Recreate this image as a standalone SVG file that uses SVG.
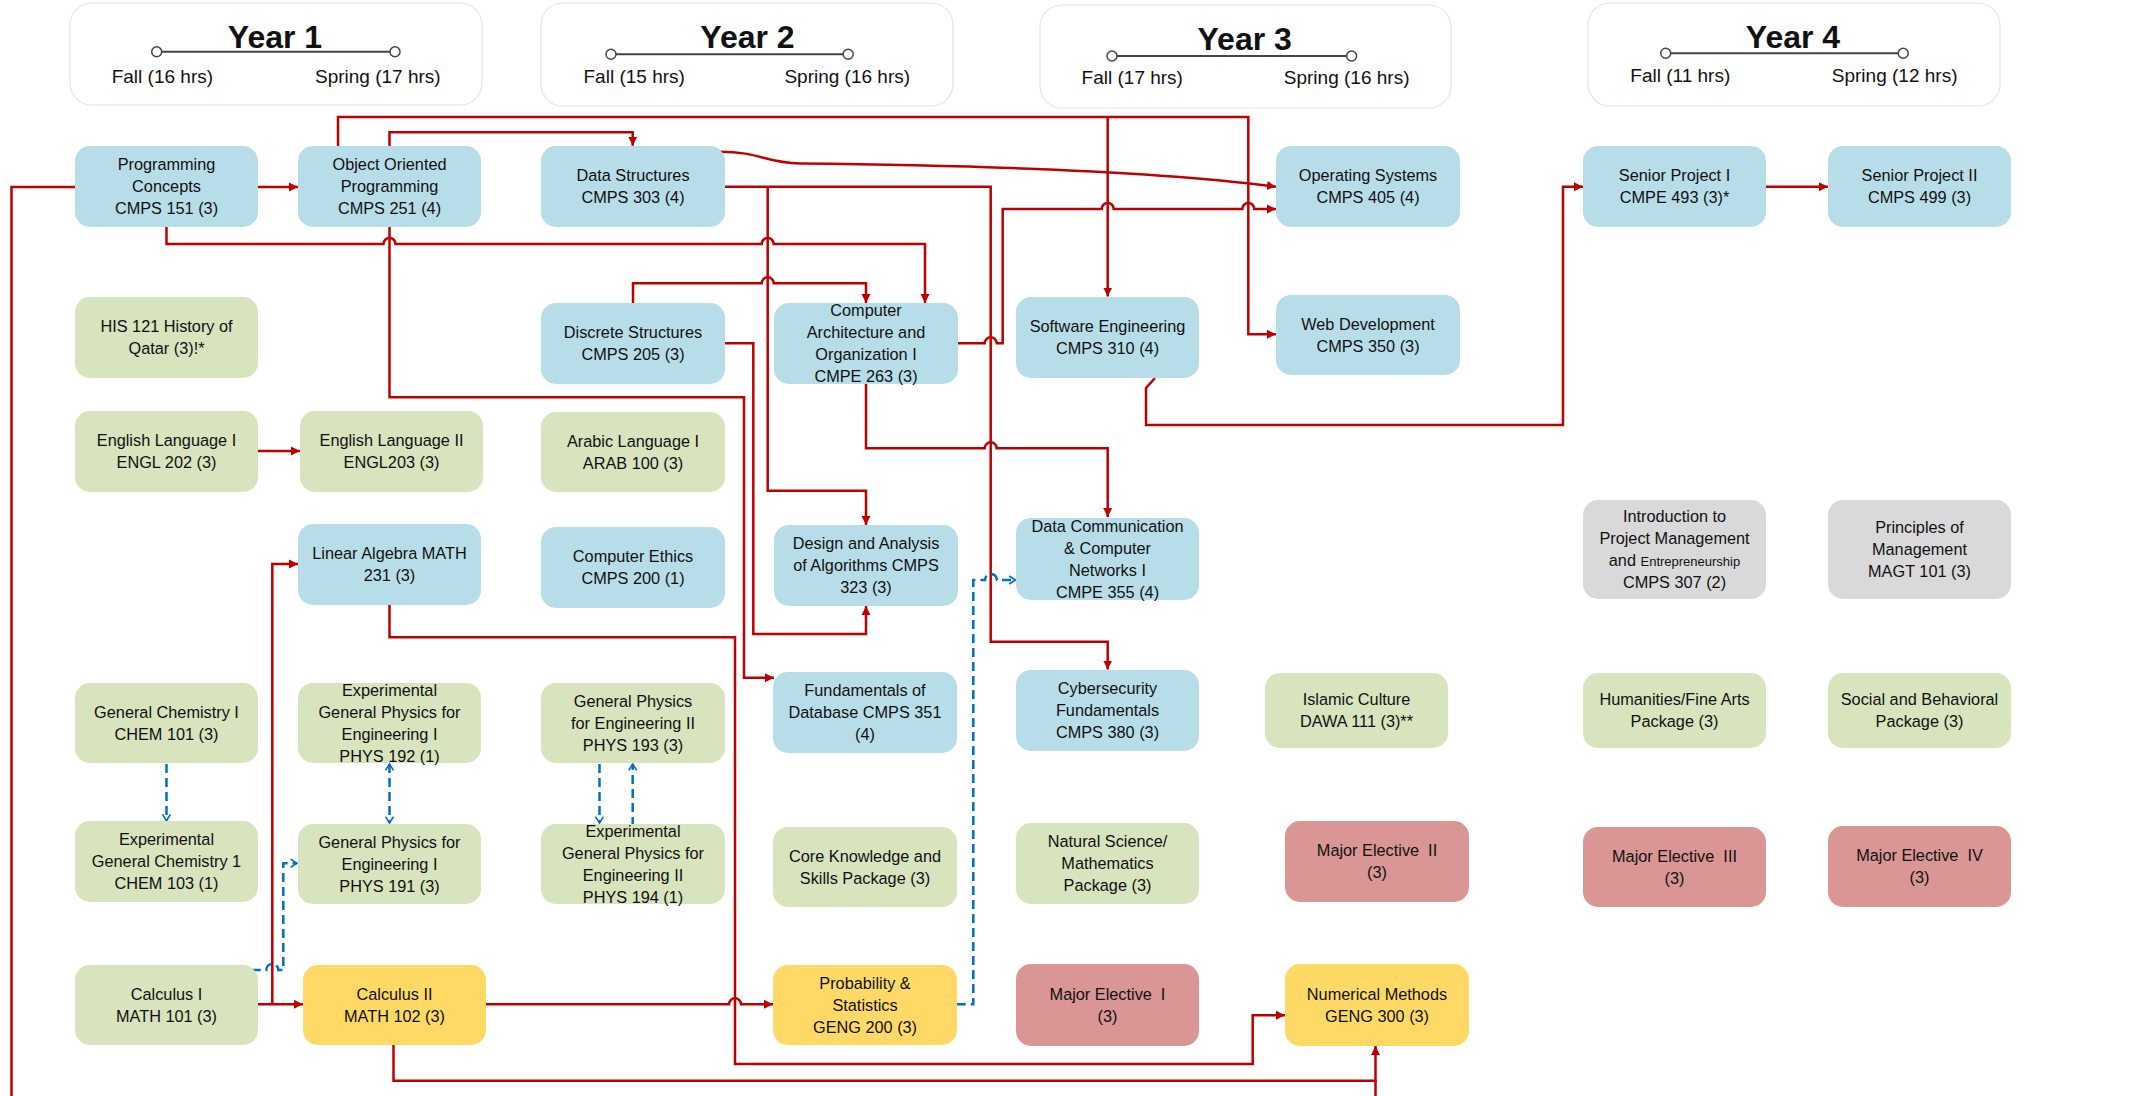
<svg xmlns="http://www.w3.org/2000/svg" width="2132" height="1096" viewBox="0 0 2132 1096">
<style>
text{font-family:"Liberation Sans",Arial,sans-serif;fill:#111}
.n text{font-size:16.3px;text-anchor:middle}
.blue{fill:#b7dee8}.green{fill:#d7e4bd}.yellow{fill:#ffd966}.pink{fill:#d99694}.gray{fill:#d9d9d9}
.hdr rect{fill:#fff;stroke:#e4e4ea;stroke-width:1.2}
.yr{font-size:32px;font-weight:bold;text-anchor:middle}
.sem{font-size:19px}
.tl{stroke:#444;stroke-width:2}
.tc{fill:#fff;stroke:#444;stroke-width:1.5}
.c{fill:none;stroke:#c00000;stroke-width:2.5}
.ca{fill:none;stroke:#c00000;stroke-width:2.5;marker-end:url(#ar)}
.d{fill:none;stroke:#0070c0;stroke-width:2.5;stroke-dasharray:9 5}
</style>
<defs>
<marker id="ar" viewBox="0 0 10 10" refX="10" refY="5" markerWidth="9" markerHeight="12" markerUnits="userSpaceOnUse" orient="auto">
<path d="M0,0 L10,5 L0,10 z" fill="#c00000"/>
</marker>
<marker id="ba" viewBox="0 0 10 12" refX="9" refY="6" markerWidth="8" markerHeight="12" markerUnits="userSpaceOnUse" orient="auto">
<path d="M1,1 L9,6 L1,11" fill="none" stroke="#0070c0" stroke-width="2"/>
</marker>
<marker id="bs" viewBox="0 0 10 12" refX="1" refY="6" markerWidth="8" markerHeight="12" markerUnits="userSpaceOnUse" orient="auto">
<path d="M9,1 L1,6 L9,11" fill="none" stroke="#0070c0" stroke-width="2"/>
</marker>
</defs>
<rect width="2132" height="1096" fill="#fff"/>

<g id="headers" class="hdr">
<g id="year1">
<rect x="70" y="3" width="412" height="102" rx="22"/>
<text class="yr" x="275" y="47.7">Year 1</text>
<line class="tl" x1="156.7" y1="51.7" x2="395" y2="51.7"/>
<circle class="tc" cx="156.7" cy="51.7" r="5"/><circle class="tc" cx="395" cy="51.7" r="5"/>
<text class="sem" x="111.7" y="83">Fall (16 hrs)</text>
<text class="sem" x="315" y="83">Spring (17 hrs)</text>
</g>
<g id="year2">
<rect x="541" y="3" width="412" height="103" rx="22"/>
<text class="yr" x="747.5" y="47.7">Year 2</text>
<line class="tl" x1="611" y1="54.3" x2="848.2" y2="54.3"/>
<circle class="tc" cx="611" cy="54.3" r="5"/><circle class="tc" cx="848.2" cy="54.3" r="5"/>
<text class="sem" x="583.5" y="82.7">Fall (15 hrs)</text>
<text class="sem" x="784.4" y="82.7">Spring (16 hrs)</text>
</g>
<g id="year3">
<rect x="1040" y="5" width="411" height="103" rx="22"/>
<text class="yr" x="1244.7" y="50">Year 3</text>
<line class="tl" x1="1112" y1="56" x2="1351.6" y2="56"/>
<circle class="tc" cx="1112" cy="56" r="5"/><circle class="tc" cx="1351.6" cy="56" r="5"/>
<text class="sem" x="1081.6" y="84.3">Fall (17 hrs)</text>
<text class="sem" x="1283.8" y="84.3">Spring (16 hrs)</text>
</g>
<g id="year4">
<rect x="1588" y="3" width="412" height="103" rx="22"/>
<text class="yr" x="1793" y="47.7">Year 4</text>
<line class="tl" x1="1665.7" y1="53.3" x2="1903.2" y2="53.3"/>
<circle class="tc" cx="1665.7" cy="53.3" r="5"/><circle class="tc" cx="1903.2" cy="53.3" r="5"/>
<text class="sem" x="1630.3" y="81.7">Fall (11 hrs)</text>
<text class="sem" x="1831.8" y="81.7">Spring (12 hrs)</text>
</g>
</g>

<g id="connectors">
<!-- red prerequisite lines -->
<path class="c" d="M75,187 H11.5 V1096"/>
<path class="ca" d="M258,187 H298"/>
<path class="ca" d="M338,146 V117 H1248.3 V334.3 H1276"/>
<path class="ca" d="M1107.7,117 V296.5"/>
<path class="ca" d="M389.5,146 V132.3 H632.7 V145.7"/>
<path class="ca" d="M389.5,227 V397.3 H744 V677.7 H774"/>
<path class="ca" d="M166.5,227 V244 H383.5 A6,6 0 0 1 395.5,244 H761.7 A6,6 0 0 1 773.7,244 H925 V303"/>
<path class="ca" d="M633,303 V283.3 H761.7 A6,6 0 0 1 773.7,283.3 H866 V303"/>
<path class="ca" d="M725,186.7 H990.7 V641.7 H1107.7 V669.5"/>
<path class="ca" d="M767.7,186.7 V490.7 H866 V525"/>
<path class="ca" d="M724.5,343.3 H753.3 V634 H866 V606"/>
<path class="ca" d="M957.7,343.3 H984.7 A6,6 0 0 1 996.7,343.3 H1002.7 V209 H1101.7 A6,6 0 0 1 1113.7,209 H1242.3 A6,6 0 0 1 1254.3,209 H1276"/>
<path class="ca" d="M720,151.7 C760,151.7 765,163 800,163.5 C950,165 1150,170 1276,186.7"/>
<path class="ca" d="M866,384 V448.3 H984.7 A6,6 0 0 1 996.7,448.3 H1107.7 V517"/>
<path class="ca" d="M1155,378 L1146,388 V425 H1563 V186.7 H1583"/>
<path class="ca" d="M1766,186.7 H1828"/>
<path class="ca" d="M258,451 H300"/>
<path class="ca" d="M257.3,1004.3 H303"/>
<path class="ca" d="M272.3,1004.3 V564 H298"/>
<path class="ca" d="M389.5,605 V637.3 H735 V1064 H1252.7 V1015.3 H1285"/>
<path class="ca" d="M486,1004.3 H729 A6,6 0 0 1 741,1004.3 H773"/>
<path class="ca" d="M393.5,1045 V1080.7 H1375.5 V1046"/>
<path class="c" d="M1375.5,1096 V1080"/>
<!-- blue dashed co-requisite lines -->
<path class="d" d="M166.5,764 V820.7" marker-end="url(#ba)"/>
<path class="d" d="M389.5,764 V823" marker-start="url(#bs)" marker-end="url(#ba)"/>
<path class="d" d="M599.5,764 V823" marker-end="url(#ba)"/>
<path class="d" d="M632.7,826 V764" marker-end="url(#ba)"/>
<path class="d" d="M251.7,970 H266.3 A6,6 0 0 1 278.3,970 H283.3 V863.3 H297" marker-end="url(#ba)"/>
<path class="d" d="M956.7,1004.3 H973.3 V580 H985 A6,6 0 0 1 997,580 H1015.5" marker-end="url(#ba)"/>
</g>

<g id="nodes" class="n">
<g id="cmps151"><rect class="blue" x="75" y="146" width="183" height="81" rx="15"/><text x="166.5" y="170.3"><tspan x="166.5">Programming</tspan><tspan x="166.5" dy="22">Concepts</tspan><tspan x="166.5" dy="22">CMPS 151 (3)</tspan></text></g>
<g id="cmps251"><rect class="blue" x="298" y="146" width="183" height="81" rx="15"/><text x="389.5" y="170.3"><tspan x="389.5">Object Oriented</tspan><tspan x="389.5" dy="22">Programming</tspan><tspan x="389.5" dy="22">CMPS 251 (4)</tspan></text></g>
<g id="cmps303"><rect class="blue" x="541" y="146" width="184" height="81" rx="15"/><text x="633" y="181.3"><tspan x="633">Data Structures</tspan><tspan x="633" dy="22">CMPS 303 (4)</tspan></text></g>
<g id="cmps405"><rect class="blue" x="1276" y="146" width="184" height="81" rx="15"/><text x="1368" y="181.3"><tspan x="1368">Operating Systems</tspan><tspan x="1368" dy="22">CMPS 405 (4)</tspan></text></g>
<g id="cmpe493"><rect class="blue" x="1583" y="146" width="183" height="81" rx="15"/><text x="1674.5" y="181.3"><tspan x="1674.5">Senior Project I</tspan><tspan x="1674.5" dy="22">CMPE 493 (3)*</tspan></text></g>
<g id="cmps499"><rect class="blue" x="1828" y="146" width="183" height="81" rx="15"/><text x="1919.5" y="181.3"><tspan x="1919.5">Senior Project II</tspan><tspan x="1919.5" dy="22">CMPS 499 (3)</tspan></text></g>
<g id="his121"><rect class="green" x="75" y="297" width="183" height="81" rx="15"/><text x="166.5" y="332.3"><tspan x="166.5">HIS 121 History of</tspan><tspan x="166.5" dy="22">Qatar (3)!*</tspan></text></g>
<g id="cmps205"><rect class="blue" x="541" y="303" width="184" height="81" rx="15"/><text x="633" y="338.3"><tspan x="633">Discrete Structures</tspan><tspan x="633" dy="22">CMPS 205 (3)</tspan></text></g>
<g id="cmpe263"><rect class="blue" x="774" y="303" width="184" height="81" rx="15"/><text x="866" y="316.3"><tspan x="866">Computer</tspan><tspan x="866" dy="22">Architecture and</tspan><tspan x="866" dy="22">Organization I</tspan><tspan x="866" dy="22">CMPE 263 (3)</tspan></text></g>
<g id="cmps310"><rect class="blue" x="1016" y="297" width="183" height="81" rx="15"/><text x="1107.5" y="332.3"><tspan x="1107.5">Software Engineering</tspan><tspan x="1107.5" dy="22">CMPS 310 (4)</tspan></text></g>
<g id="cmps350"><rect class="blue" x="1276" y="295" width="184" height="80" rx="15"/><text x="1368" y="329.8"><tspan x="1368">Web Development</tspan><tspan x="1368" dy="22">CMPS 350 (3)</tspan></text></g>
<g id="engl202"><rect class="green" x="75" y="411" width="183" height="81" rx="15"/><text x="166.5" y="446.3"><tspan x="166.5">English Language I</tspan><tspan x="166.5" dy="22">ENGL 202 (3)</tspan></text></g>
<g id="engl203"><rect class="green" x="300" y="411" width="183" height="81" rx="15"/><text x="391.5" y="446.3"><tspan x="391.5">English Language II</tspan><tspan x="391.5" dy="22">ENGL203 (3)</tspan></text></g>
<g id="arab100"><rect class="green" x="541" y="412" width="184" height="80" rx="15"/><text x="633" y="446.8"><tspan x="633">Arabic Language I</tspan><tspan x="633" dy="22">ARAB 100 (3)</tspan></text></g>
<g id="math231"><rect class="blue" x="298" y="524" width="183" height="81" rx="15"/><text x="389.5" y="559.3"><tspan x="389.5">Linear Algebra MATH</tspan><tspan x="389.5" dy="22">231 (3)</tspan></text></g>
<g id="cmps200"><rect class="blue" x="541" y="527" width="184" height="81" rx="15"/><text x="633" y="562.3"><tspan x="633">Computer Ethics</tspan><tspan x="633" dy="22">CMPS 200 (1)</tspan></text></g>
<g id="cmps323"><rect class="blue" x="774" y="525" width="184" height="81" rx="15"/><text x="866" y="549.3"><tspan x="866">Design and Analysis</tspan><tspan x="866" dy="22">of Algorithms CMPS</tspan><tspan x="866" dy="22">323 (3)</tspan></text></g>
<g id="cmpe355"><rect class="blue" x="1016" y="518" width="183" height="82" rx="15"/><text x="1107.5" y="531.8"><tspan x="1107.5">Data Communication</tspan><tspan x="1107.5" dy="22">&amp; Computer</tspan><tspan x="1107.5" dy="22">Networks I</tspan><tspan x="1107.5" dy="22">CMPE 355 (4)</tspan></text></g>
<g id="cmps307"><rect class="gray" x="1583" y="500" width="183" height="99" rx="15"/><text x="1674.5" y="522.3"><tspan x="1674.5">Introduction to</tspan><tspan x="1674.5" dy="22">Project Management</tspan><tspan x="1674.5" dy="22">and <tspan font-size="13">Entrepreneurship</tspan></tspan><tspan x="1674.5" dy="22">CMPS 307 (2)</tspan></text></g>
<g id="magt101"><rect class="gray" x="1828" y="500" width="183" height="99" rx="15"/><text x="1919.5" y="533.3"><tspan x="1919.5">Principles of</tspan><tspan x="1919.5" dy="22">Management</tspan><tspan x="1919.5" dy="22">MAGT 101 (3)</tspan></text></g>
<g id="chem101"><rect class="green" x="75" y="683" width="183" height="80" rx="15"/><text x="166.5" y="717.8"><tspan x="166.5">General Chemistry I</tspan><tspan x="166.5" dy="22">CHEM 101 (3)</tspan></text></g>
<g id="phys192"><rect class="green" x="298" y="683" width="183" height="80" rx="15"/><text x="389.5" y="695.8"><tspan x="389.5">Experimental</tspan><tspan x="389.5" dy="22">General Physics for</tspan><tspan x="389.5" dy="22">Engineering I</tspan><tspan x="389.5" dy="22">PHYS 192 (1)</tspan></text></g>
<g id="phys193"><rect class="green" x="541" y="683" width="184" height="80" rx="15"/><text x="633" y="706.8"><tspan x="633">General Physics</tspan><tspan x="633" dy="22">for Engineering II</tspan><tspan x="633" dy="22">PHYS 193 (3)</tspan></text></g>
<g id="cmps351"><rect class="blue" x="773" y="672" width="184" height="81" rx="15"/><text x="865" y="696.3"><tspan x="865">Fundamentals of</tspan><tspan x="865" dy="22">Database CMPS 351</tspan><tspan x="865" dy="22">(4)</tspan></text></g>
<g id="cmps380"><rect class="blue" x="1016" y="670" width="183" height="81" rx="15"/><text x="1107.5" y="694.3"><tspan x="1107.5">Cybersecurity</tspan><tspan x="1107.5" dy="22">Fundamentals</tspan><tspan x="1107.5" dy="22">CMPS 380 (3)</tspan></text></g>
<g id="dawa111"><rect class="green" x="1265" y="673" width="183" height="75" rx="15"/><text x="1356.5" y="705.3"><tspan x="1356.5">Islamic Culture</tspan><tspan x="1356.5" dy="22">DAWA 111 (3)**</tspan></text></g>
<g id="humanities"><rect class="green" x="1583" y="673" width="183" height="75" rx="15"/><text x="1674.5" y="705.3"><tspan x="1674.5">Humanities/Fine Arts</tspan><tspan x="1674.5" dy="22">Package (3)</tspan></text></g>
<g id="social"><rect class="green" x="1828" y="673" width="183" height="75" rx="15"/><text x="1919.5" y="705.3"><tspan x="1919.5">Social and Behavioral</tspan><tspan x="1919.5" dy="22">Package (3)</tspan></text></g>
<g id="chem103"><rect class="green" x="75" y="821" width="183" height="81" rx="15"/><text x="166.5" y="845.3"><tspan x="166.5">Experimental</tspan><tspan x="166.5" dy="22">General Chemistry 1</tspan><tspan x="166.5" dy="22">CHEM 103 (1)</tspan></text></g>
<g id="phys191"><rect class="green" x="298" y="824" width="183" height="80" rx="15"/><text x="389.5" y="847.8"><tspan x="389.5">General Physics for</tspan><tspan x="389.5" dy="22">Engineering I</tspan><tspan x="389.5" dy="22">PHYS 191 (3)</tspan></text></g>
<g id="phys194"><rect class="green" x="541" y="824" width="184" height="80" rx="15"/><text x="633" y="836.8"><tspan x="633">Experimental</tspan><tspan x="633" dy="22">General Physics for</tspan><tspan x="633" dy="22">Engineering II</tspan><tspan x="633" dy="22">PHYS 194 (1)</tspan></text></g>
<g id="core"><rect class="green" x="773" y="827" width="184" height="80" rx="15"/><text x="865" y="861.8"><tspan x="865">Core Knowledge and</tspan><tspan x="865" dy="22">Skills Package (3)</tspan></text></g>
<g id="natsci"><rect class="green" x="1016" y="823" width="183" height="81" rx="15"/><text x="1107.5" y="847.3"><tspan x="1107.5">Natural Science/</tspan><tspan x="1107.5" dy="22">Mathematics</tspan><tspan x="1107.5" dy="22">Package (3)</tspan></text></g>
<g id="elective2"><rect class="pink" x="1285" y="821" width="184" height="81" rx="15"/><text x="1377" y="856.3" xml:space="preserve"><tspan x="1377">Major Elective  II</tspan><tspan x="1377" dy="22">(3)</tspan></text></g>
<g id="elective3"><rect class="pink" x="1583" y="827" width="183" height="80" rx="15"/><text x="1674.5" y="861.8" xml:space="preserve"><tspan x="1674.5">Major Elective  III</tspan><tspan x="1674.5" dy="22">(3)</tspan></text></g>
<g id="elective4"><rect class="pink" x="1828" y="826" width="183" height="81" rx="15"/><text x="1919.5" y="861.3" xml:space="preserve"><tspan x="1919.5">Major Elective  IV</tspan><tspan x="1919.5" dy="22">(3)</tspan></text></g>
<g id="math101"><rect class="green" x="75" y="965" width="183" height="80" rx="15"/><text x="166.5" y="999.8"><tspan x="166.5">Calculus I</tspan><tspan x="166.5" dy="22">MATH 101 (3)</tspan></text></g>
<g id="math102"><rect class="yellow" x="303" y="965" width="183" height="80" rx="15"/><text x="394.5" y="999.8"><tspan x="394.5">Calculus II</tspan><tspan x="394.5" dy="22">MATH 102 (3)</tspan></text></g>
<g id="geng200"><rect class="yellow" x="773" y="965" width="184" height="80" rx="15"/><text x="865" y="988.8"><tspan x="865">Probability &amp;</tspan><tspan x="865" dy="22">Statistics</tspan><tspan x="865" dy="22">GENG 200 (3)</tspan></text></g>
<g id="elective1"><rect class="pink" x="1016" y="964" width="183" height="82" rx="15"/><text x="1107.5" y="999.8" xml:space="preserve"><tspan x="1107.5">Major Elective  I</tspan><tspan x="1107.5" dy="22">(3)</tspan></text></g>
<g id="geng300"><rect class="yellow" x="1285" y="964" width="184" height="82" rx="15"/><text x="1377" y="999.8"><tspan x="1377">Numerical Methods</tspan><tspan x="1377" dy="22">GENG 300 (3)</tspan></text></g>
</g>
</svg>
